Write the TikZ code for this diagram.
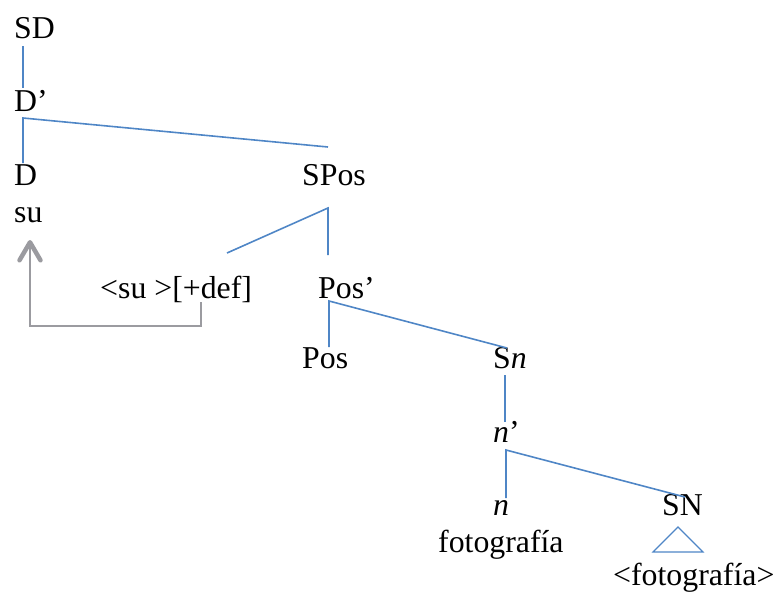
\documentclass[tikz,border=0pt]{standalone}
\usepackage{fontspec}
\setmainfont{Liberation Serif}
\usetikzlibrary{arrows.meta}
\definecolor{treeblue}{RGB}{79,134,198}
\definecolor{arrowgray}{RGB}{155,155,160}
\begin{document}
\begin{tikzpicture}[x=1pt,y=-1pt,
  lbl/.style={anchor=base west,inner sep=0pt,font=\fontsize{31.8}{36}\selectfont},
  branch/.style={draw=treeblue,line width=1.6pt},
  movearrow/.style={draw=arrowgray,line width=2.8pt,-{Straight Barb[length=18pt,width=21pt,line width=4.5pt,round]}}]
\useasboundingbox (0,0) rectangle (776,595);
% labels
\node[lbl] (SD) at (14,38) {SD};
\node[lbl] (Dbar) at (14,111) {D’};
\node[lbl] (D) at (14,185) {D};
\node[lbl] (su) at (14,222) {su};
\node[lbl] (SPos) at (302,185) {SPos};
\node[lbl] (trace) at (100,298) {<su >[+def]};
\node[lbl] (Posbar) at (318,298) {Pos’};
\node[lbl] (Pos) at (302,368) {Pos};
\node[lbl] (Sn) at (493,368) {S\textit{n}};
\node[lbl] (nbar) at (493,442) {\textit{n}’};
\node[lbl] (n) at (493,515) {\textit{n}};
\node[lbl] (SN) at (662,515) {SN};
\node[lbl] (foto) at (438,552) {fotografía};
\node[lbl] (fotot) at (613,585) {<fotografía>};
% branch points
\coordinate (sdb) at (23,46);
\coordinate (dbt) at (23,88);
\coordinate (dbb) at (23,118);
\coordinate (dt) at (23,163);
\coordinate (spt) at (328,147);
\coordinate (spb) at (328,208);
\coordinate (trt) at (227,253);
\coordinate (pbt) at (328,255);
\coordinate (pbb) at (329,301);
\coordinate (post) at (329,347);
\coordinate (snt) at (507,348);
\coordinate (snb) at (505,375);
\coordinate (nbt) at (505,422);
\coordinate (nbb) at (506,450);
\coordinate (nt) at (506,498);
\coordinate (SNt) at (685,497);
\coordinate (tria) at (678,527);
\coordinate (tril) at (653,552);
\coordinate (trir) at (703,552);
% branches
\draw[branch] (sdb) -- (dbt);
\draw[branch] (dt) -- (dbb) -- (spt);
\draw[branch] (trt) -- (spb) -- (pbt);
\draw[branch] (post) -- (pbb) -- (snt);
\draw[branch] (snb) -- (nbt);
\draw[branch] (nt) -- (nbb) -- (SNt);
\draw[draw=treeblue,line width=1.1pt] (tria) -- (tril) -- (trir) -- cycle;
% movement arrow
\coordinate (mvs) at (201,302);
\coordinate (mvc) at (30,326);
\coordinate (mve) at (30,240);
\draw[movearrow] (mvs) |- (mvc) -- (mve);
\end{tikzpicture}
\end{document}
